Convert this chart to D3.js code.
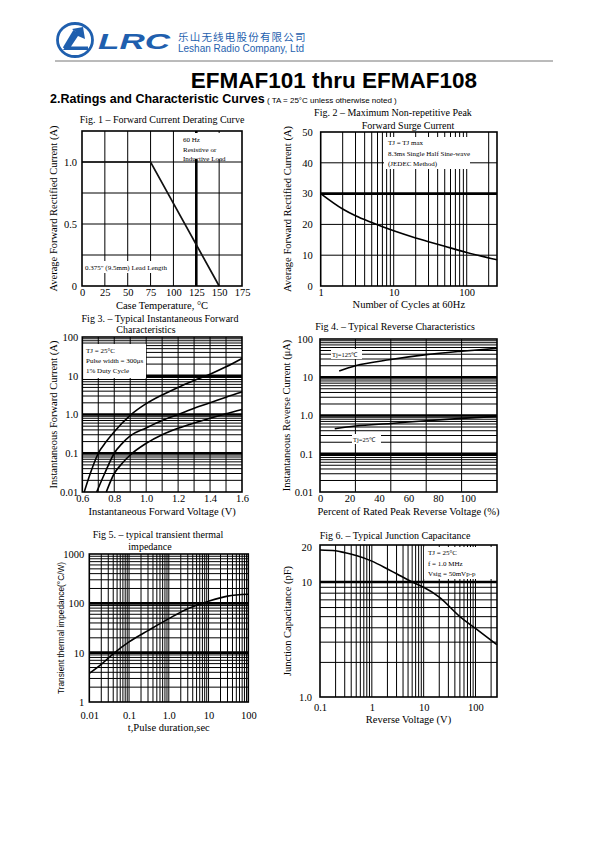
<!DOCTYPE html>
<html><head><meta charset="utf-8">
<script src="https://cdn.jsdelivr.net/npm/d3@7"></script>
<style>
html,body{margin:0;padding:0;background:#fff;}
svg{display:block;}
</style></head>
<body>
<script>
// ---------- DATA ----------
// Fig 1
const fig1Temp = [0, 75, 150];
const fig1Current = [1.0, 1.0, 0];
const fig1XTicks = [0, 25, 50, 75, 100, 125, 150, 175];
const fig1YTicks = [0, 0.5, 1.0];
const fig1YLabels = ["0", "0.5", "1.0"];
// Fig 2
const fig2Cycles = [1, 2, 3, 5, 10, 20, 30, 50, 100, 260];
const fig2Current = [30, 25, 22.8, 20.6, 17.9, 15.6, 14.4, 12.9, 10.9, 8.5];
const fig2XTicks = [1, 10, 100];
const fig2YTicks = [0, 10, 20, 30, 40, 50];
// Fig 3
const fig3Voltage = [[0.612,0.65,0.7,0.75,0.8,0.9,1.0,1.1,1.2,1.3,1.4,1.5,1.6],
                     [0.69,0.74,0.8,0.85,0.9,1.0,1.1,1.2,1.3,1.4,1.5,1.6],
                     [0.75,0.8,0.85,0.9,1.0,1.1,1.2,1.3,1.4,1.5,1.6]];
const fig3Current = [[0.01,0.03,0.1,0.2,0.36,0.95,1.9,3.2,5.0,7.5,11,17,28],
                     [0.01,0.03,0.1,0.18,0.28,0.45,0.7,1.0,1.45,2.0,2.8,3.8],
                     [0.01,0.03,0.055,0.09,0.18,0.3,0.44,0.6,0.8,1.05,1.35]];
const fig3XTicks = [0.6, 0.8, 1.0, 1.2, 1.4, 1.6];
const fig3XLabels = ["0.6","0.8","1.0","1.2","1.4","1.6"];
const fig3YTicks = [0.01, 0.1, 1, 10, 100];
const fig3YLabels = ["0.01","0.1","1.0","10","100"];
// Fig 4
const fig4Percent125 = [13, 24, 48, 72, 96, 120];
const fig4Current125 = [14.5, 20, 29, 39, 48, 57];
const fig4Percent25 = [10, 24, 48, 72, 96, 120];
const fig4Current25 = [0.45, 0.53, 0.62, 0.73, 0.84, 0.95];
const fig4XTicks = [0, 20, 40, 60, 80, 100];
const fig4VGrid = [24, 48, 72, 96];
const fig4YTicks = [0.01, 0.1, 1, 10, 100];
const fig4YLabels = ["0.01","0.1","1.0","10","100"];
// Fig 5
const fig5Time = [0.01, 0.02, 0.04, 0.1, 0.3, 1, 3, 10, 30, 100];
const fig5Imp = [3.8, 5.8, 9.5, 16.5, 28, 49, 78, 110, 140, 153];
const fig5XTicks = [0.01, 0.1, 1, 10, 100];
const fig5XLabels = ["0.01","0.1","1.0","10","100"];
const fig5YTicks = [1, 10, 100, 1000];
// Fig 6
const fig6Voltage = [0.1, 0.2, 0.3, 0.5, 1, 2, 3, 6, 10, 20, 50, 100, 260];
const fig6Cap = [19, 18.7, 18, 17, 15.2, 13, 11.8, 10, 9, 7.4, 5, 3.95, 2.85];
const fig6XTicks = [0.1, 1, 10, 100];
const fig6XLabels = ["0.1","1","10","100"];
const fig6YTicks = [1, 10, 20];
const fig6YLabels = ["1.0","10","20"];

// ---------- DRAW ----------
const svg = d3.select("body").append("svg").attr("width",595).attr("height",842);
const SERIF = "'Liberation Serif','Times New Roman',serif";
const SANS = "'Liberation Sans',Arial,sans-serif";
const BLUE = "#1f5fae";

// Header
const hdr = svg.append("g");
hdr.append("ellipse").attr("cx",75).attr("cy",40).attr("rx",17.5).attr("ry",16.5)
  .attr("fill","none").attr("stroke",BLUE).attr("stroke-width",2.8);
hdr.append("path").attr("d","M63,50 L88,50 L88,46.5 L71,46.5 L78,36 L85,39 L83,27 L72,29 L76,32 Z")
  .attr("fill",BLUE);
hdr.append("path").attr("d","M64.5,48.5 L75,31").attr("stroke",BLUE).attr("stroke-width",3.8).attr("fill","none");
hdr.append("text").attr("x",98).attr("y",48.5).text("LRC")
  .attr("font-family",SANS).attr("font-weight","bold").attr("font-style","italic")
  .attr("font-size",22.5).attr("textLength",72).attr("lengthAdjust","spacingAndGlyphs").attr("fill",BLUE);
hdr.append("text").attr("x",178).attr("y",41).text("乐山无线电股份有限公司")
  .attr("font-family","'Noto Sans CJK SC',sans-serif").attr("font-size",10.5).attr("letter-spacing",1.2).attr("fill",BLUE);
hdr.append("text").attr("x",178).attr("y",52).text("Leshan Radio Company, Ltd")
  .attr("font-family",SANS).attr("font-size",10).attr("fill",BLUE);
hdr.append("line").attr("x1",55).attr("x2",553).attr("y1",61).attr("y2",61)
  .attr("stroke","#777").attr("stroke-width",1);

svg.append("text").attr("x",334).attr("y",88).attr("text-anchor","middle")
  .text("EFMAF101 thru EFMAF108").attr("font-family",SANS).attr("font-weight","bold").attr("font-size",22.5);
const sub = svg.append("text").attr("x",50).attr("y",103).attr("font-family",SANS);
sub.append("tspan").text("2.Ratings and Characteristic Curves").attr("font-weight","bold").attr("font-size",12.5);
sub.append("tspan").text(" ( TA = 25°C unless otherwise noted )").attr("font-size",8);

function drawChart(o){
  const g = svg.append("g");
  const x = o.x, y = o.y;
  const [x0,x1] = x.range(), [y0,y1] = y.range(); // y0 bottom, y1 top
  (o.vgrid||[]).forEach(v=>{
    g.append("line").attr("x1",x(v)).attr("x2",x(v)).attr("y1",y0).attr("y2",y1)
     .attr("stroke","#000").attr("stroke-width",(o.thickV||[]).includes(v)?2.6:1);
  });
  (o.hgrid||[]).forEach(v=>{
    g.append("line").attr("x1",x0).attr("x2",x1).attr("y1",y(v)).attr("y2",y(v))
     .attr("stroke","#000").attr("stroke-width",(o.thickH||[]).includes(v)?2.6:1);
  });
  (o.notes||[]).forEach(n=>{
    g.append("rect").attr("x",n.bx).attr("y",n.by).attr("width",n.bw).attr("height",n.bh).attr("fill","#fff");
    n.lines.forEach((t,i)=>{
      g.append("text").attr("x",n.x).attr("y",n.y+i*(n.lh||10.5)).text(t)
       .attr("font-family",SERIF).attr("font-size",n.fs||7);
    });
  });
  const line = d3.line().x(d=>x(d[0])).y(d=>y(d[1])).curve(o.linear?d3.curveLinear:d3.curveMonotoneX);
  o.series.forEach(s=>{
    g.append("path").datum(d3.zip(s.x,s.y)).attr("d",line)
     .attr("fill","none").attr("stroke",s.color||"#000").attr("stroke-width",s.w||1.6);
  });
  g.append("rect").attr("x",x0).attr("y",y1).attr("width",x1-x0).attr("height",y0-y1)
   .attr("fill","none").attr("stroke","#000").attr("stroke-width",1.6);
  const ax = g.append("g").attr("transform",`translate(0,${y0})`)
    .call(d3.axisBottom(x).tickValues(o.xTicks).tickFormat((d,i)=>o.xLabels?o.xLabels[i]:String(d)).tickSize(0).tickPadding(o.xPad||3));
  const ay = g.append("g").attr("transform",`translate(${x0},0)`)
    .call(d3.axisLeft(y).tickValues(o.yTicks).tickFormat((d,i)=>o.yLabels?o.yLabels[i]:String(d)).tickSize(0).tickPadding(o.yPad||5));
  [ax,ay].forEach(a=>{a.select(".domain").remove();
    a.selectAll("text").attr("font-family",SERIF).attr("font-size",10.5).attr("fill","#000");});
  o.title.forEach(t=>{
    g.append("text").attr("x",t[1]).attr("y",t[2]).attr("text-anchor","middle").text(t[0])
     .attr("font-family",SERIF).attr("font-size",10);
  });
  g.append("text").attr("x",(x0+x1)/2).attr("y",o.xLabelY).attr("text-anchor","middle").text(o.xLabel)
   .attr("font-family",SERIF).attr("font-size",10.5);
  g.append("text").attr("transform",`translate(${o.yLabelX},${(y0+y1)/2}) rotate(-90)`)
   .attr("text-anchor","middle").text(o.yLabel)
   .attr("font-family",o.yLabelSans?SANS:SERIF).attr("font-size",o.yLabelSans?8.3:10.5);
}

// Fig 1
{
  const x = d3.scaleLinear().domain([0,175]).range([82,242]);
  const y = d3.scaleLinear().domain([0,1.25]).range([286,131]);
  drawChart({x,y,linear:true,
    vgrid:[25,50,75,100,125,150], thickV:[125], hgrid:[0.25,0.5,0.75,1.0],
    series:[{x:fig1Temp,y:fig1Current,w:1.7,color:"#111"}],
    xTicks:fig1XTicks, yTicks:fig1YTicks, yLabels:fig1YLabels,
    notes:[{bx:179,by:133,bw:48,bh:26,x:183,y:142,lh:9.5,lines:["60 Hz","Resistive or","Inductive Load"]},
           {bx:83,by:261,bw:89,bh:12,x:85,y:270,lines:["0.375\" (9.5mm) Lead Length"]}],
    title:[["Fig. 1  –  Forward Current Derating Curve",162,123]],
    xLabel:"Case Temperature, °C", xLabelY:309, yLabel:"Average Forward Rectified Current (A)", yLabelX:57});
}
// Fig 2
{
  const x = d3.scaleLog().domain([1,260]).range([320.7,497]);
  const y = d3.scaleLinear().domain([0,50]).range([286,132]);
  drawChart({x,y,yPad:8,
    vgrid:x.ticks().filter(v=>v>1), hgrid:[10,20,30,40], thickH:[30],
    series:[{x:fig2Cycles,y:fig2Current}],
    xTicks:fig2XTicks, yTicks:fig2YTicks,
    notes:[{bx:384,by:137,bw:86,bh:32,x:388,y:145,lh:10.5,lines:["TJ = TJ max","8.3ms Single Half Sine-wave","(JEDEC Method)"]}],
    title:[["Fig. 2  –  Maximum Non-repetitive Peak",393,116],["Forward Surge Current",408,129]],
    xLabel:"Number of Cycles at 60Hz", xLabelY:308, yLabel:"Average Forward Rectified Current (A)", yLabelX:291});
}
// Fig 3
{
  const x = d3.scaleLinear().domain([0.6,1.6]).range([82.3,242]);
  const y = d3.scaleLog().domain([0.01,100]).range([492,337]);
  drawChart({x,y,yPad:4,
    vgrid:[0.7,0.8,0.9,1.0,1.1,1.2,1.3,1.4,1.5], hgrid:y.ticks().filter(v=>v>0.01&&v<100), thickH:[0.1,1,10],
    series:fig3Voltage.map((v,i)=>({x:v,y:fig3Current[i]})),
    xTicks:fig3XTicks, xLabels:fig3XLabels, yTicks:fig3YTicks, yLabels:fig3YLabels,
    notes:[{bx:83,by:344,bw:63,bh:34,x:86,y:353,lh:10,lines:["TJ = 25°C","Pulse width = 300μs","1% Duty Cycle"]}],
    title:[["Fig 3.  –  Typical Instantaneous Forward",160,322],["Characteristics",146,333]],
    xLabel:"Instantaneous Forward Voltage (V)", xLabelY:515, yLabel:"Instantaneous Forward Current (A)", yLabelX:57});
}
// Fig 4
{
  const x = d3.scaleLinear().domain([0,120]).range([320,497]);
  const y = d3.scaleLog().domain([0.01,100]).range([492,339]);
  drawChart({x,y,yPad:7,
    vgrid:fig4VGrid, hgrid:y.ticks().filter(v=>v>0.01&&v<100), thickH:[0.1,1,10],
    series:[{x:fig4Percent125,y:fig4Current125},{x:fig4Percent25,y:fig4Current25}],
    xTicks:fig4XTicks, yTicks:fig4YTicks, yLabels:fig4YLabels,
    notes:[{bx:331,by:349,bw:31,bh:10,x:332,y:357,fs:6.5,lines:["Tj=125℃"]},
           {bx:352,by:434,bw:29,bh:10,x:353,y:442,fs:6.5,lines:["Tj=25℃"]}],
    title:[["Fig 4.  –  Typical Reverse Characteristics",395,330]],
    xLabel:"Percent of Rated Peak Reverse Voltage (%)", xLabelY:515, yLabel:"Instantaneous Reverse Current (μA)", yLabelX:290});
}
// Fig 5
{
  const x = d3.scaleLog().domain([0.01,100]).range([89.3,248.3]);
  const y = d3.scaleLog().domain([1,1000]).range([702,554]);
  drawChart({x,y,xPad:10,
    vgrid:x.ticks().filter(v=>v>0.01&&v<100), hgrid:y.ticks().filter(v=>v>1&&v<1000), thickH:[10,100],
    series:[{x:fig5Time,y:fig5Imp}],
    xTicks:fig5XTicks, xLabels:fig5XLabels, yTicks:fig5YTicks,
    notes:[],
    title:[["Fig 5.  – typical transient thermal",158,538],["impedance",150,550]],
    xLabel:"t,Pulse duration,sec", xLabelY:731, yLabel:"Transient thermal impedance(°C/W)", yLabelX:64, yLabelSans:true});
}
// Fig 6
{
  const x = d3.scaleLog().domain([0.1,260]).range([320,497]);
  const y = d3.scaleLog().domain([1,21]).range([697,545]);
  drawChart({x,y,xPad:7,yPad:8,
    vgrid:x.ticks().filter(v=>v>0.1), hgrid:y.ticks().filter(v=>v>1&&v<=10), thickH:[10],
    series:[{x:fig6Voltage,y:fig6Cap}],
    xTicks:fig6XTicks, xLabels:fig6XLabels, yTicks:fig6YTicks, yLabels:fig6YLabels,
    notes:[{bx:424,by:547,bw:72,bh:32,x:428,y:555,lh:10.5,lines:["TJ = 25°C","f = 1.0 MHz","Vsig = 50mVp-p"]}],
    title:[["Fig 6.  –  Typical Junction Capacitance",395,539]],
    xLabel:"Reverse Voltage (V)", xLabelY:723, yLabel:"Junction Capacitance (pF)", yLabelX:291});
}
</script>
</body></html>
